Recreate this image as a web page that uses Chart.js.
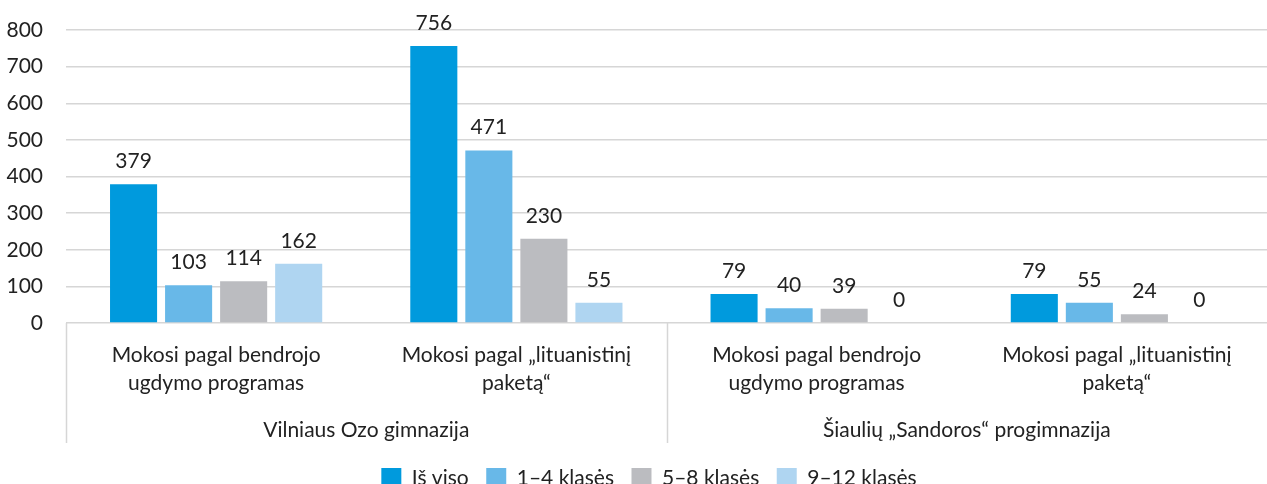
<!DOCTYPE html>
<html>
<head>
<meta charset="utf-8">
<script src="https://cdn.jsdelivr.net/npm/chart.js@4/dist/chart.umd.min.js"></script>
<style>
html,body{margin:0;padding:0;background:#fff;overflow:hidden}
#wrap{width:1267px;height:484px;position:relative}
canvas{display:block}
</style>
</head>
<body>
<div id="wrap"><canvas id="c" width="1267" height="484"></canvas></div>
<script>
const categories = [
  ['Mokosi pagal bendrojo', 'ugdymo programas'],
  ['Mokosi pagal „lituanistinį', 'paketą“'],
  ['Mokosi pagal bendrojo', 'ugdymo programas'],
  ['Mokosi pagal „lituanistinį', 'paketą“']
];
const groups = ['Vilniaus Ozo gimnazija', 'Šiaulių „Sandoros“ progimnazija'];
const seriesNames = ['Iš viso', '1–4 klasės', '5–8 klasės', '9–12 klasės'];
const totalValues = [379, 756, 79, 79];
const grades1to4 = [103, 471, 40, 55];
const grades5to8 = [114, 230, 39, 24];
const grades9to12 = [162, 55, 0, 0];
const yTicks = [0, 100, 200, 300, 400, 500, 600, 700, 800];

const colors = ['#009ADD', '#68B8E8', '#BBBCC0', '#AFD5F1'];
const FONT = 'Lato';
const FS = 21;
const TXT = '#222222';
const GRID = '#d6d6d6';

const seriesValues = [totalValues, grades1to4, grades5to8, grades9to12];

const dataLabels = {
  id: 'dataLabels',
  afterDatasetsDraw(chart) {
    const ctx = chart.ctx;
    ctx.save();
    ctx.font = FS + 'px ' + FONT;
    ctx.fillStyle = TXT;
    ctx.textAlign = 'center';
    ctx.textBaseline = 'alphabetic';
    chart.data.datasets.forEach((ds, i) => {
      const meta = chart.getDatasetMeta(i);
      meta.data.forEach((el, j) => {
        ctx.fillText(String(ds.data[j]), el.x, el.y - 16);
      });
    });
    ctx.restore();
  }
};

const separators = {
  id: 'separators',
  afterDraw(chart) {
    const ctx = chart.ctx;
    const x = chart.scales.x;
    const area = chart.chartArea;
    const bottom = 443;
    const xs = [area.left, x.getPixelForValue(1.5)];
    ctx.save();
    ctx.strokeStyle = GRID;
    ctx.lineWidth = 1.5;
    xs.forEach(px => {
      const p = Math.round(px) + 0.5;
      ctx.beginPath();
      ctx.moveTo(p, area.bottom);
      ctx.lineTo(p, bottom);
      ctx.stroke();
    });
    ctx.restore();
  }
};

const legendShift = {
  id: 'legendShift',
  beforeDraw(chart) {
    if (chart.legend) { chart.legend.left = 31; }
  }
};

new Chart(document.getElementById('c'), {
  type: 'bar',
  data: {
    labels: categories,
    datasets: seriesNames.map((name, i) => ({
      label: name,
      data: seriesValues[i],
      backgroundColor: colors[i],
      borderWidth: 0,
      categoryPercentage: 0.7333,
      barPercentage: 0.855
    }))
  },
  options: {
    responsive: false,
    animation: false,
    devicePixelRatio: 1,
    layout: { padding: { top: 30, right: 0, left: 0, bottom: -14.5 } },
    plugins: {
      legend: {
        position: 'bottom',
        labels: {
          font: { family: FONT, size: FS },
          color: TXT,
          boxWidth: 20,
          boxHeight: 20,
          padding: 17.5
        }
      },
      tooltip: { enabled: false }
    },
    scales: {
      y: {
        min: 0,
        max: 800,
        afterBuildTicks: s => { s.ticks = yTicks.map(v => ({ value: v })); },
        afterFit: s => { s.width = 66; },
        grid: { color: GRID, lineWidth: 1.5, drawTicks: true, tickLength: 23, tickColor: 'rgba(0,0,0,0)' },
        border: { display: false },
        ticks: { font: { family: FONT, size: FS }, color: TXT, padding: 0 }
      },
      x: {
        afterFit: s => { s.height = 82; },
        grid: { display: false, drawTicks: false },
        border: { display: false },
        ticks: {
          font: { family: FONT, size: FS, lineHeight: 28 / FS },
          color: TXT,
          padding: 18,
          maxRotation: 0,
          autoSkip: false
        }
      },
      x2: {
        type: 'category',
        position: 'bottom',
        labels: groups,
        afterFit: s => { s.height = 45; },
        grid: { display: false, drawTicks: false },
        border: { display: false },
        ticks: {
          font: { family: FONT, size: FS },
          color: TXT,
          padding: 12.4,
          maxRotation: 0,
          autoSkip: false
        }
      }
    }
  },
  plugins: [dataLabels, separators, legendShift]
});
</script>
</body>
</html>
